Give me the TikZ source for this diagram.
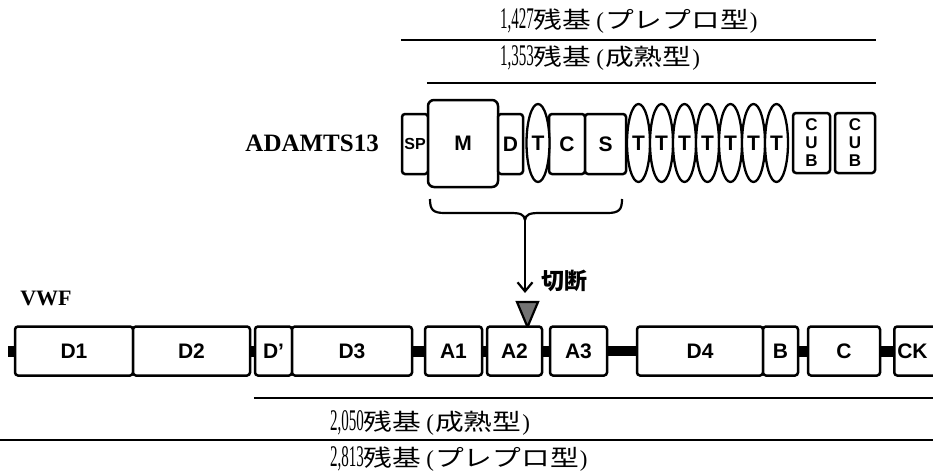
\documentclass[tikz,border=0pt]{standalone}
\usepackage{graphicx}
\usepackage{fontspec}
\setmainfont{Liberation Serif}
\setsansfont{Liberation Sans}
\newfontfamily\jp[FakeStretch=1.25]{Noto Sans CJK JP}
\newfontfamily\jpcut{Noto Sans CJK JP}
\usetikzlibrary{shapes.geometric,arrows.meta}
\newcommand\restext[2]{\scalebox{0.5}[1]{\fontsize{30}{32}\selectfont #1}{\jp 残基}\hspace{5pt}(\kern1pt{\jp #2}\kern1pt)}
\begin{document}
\begin{tikzpicture}[x=1pt,y=-1pt,
  dom/.style={draw, line width=2.5pt, rounded corners=3pt, fill=white, inner sep=0pt,
    font=\sffamily\bfseries\fontsize{21}{24}\selectfont},
  adom/.style={dom, minimum height=60pt},
  tdom/.style={ellipse, draw, line width=2.3pt, fill=white, inner sep=0pt,
    minimum width=23pt, minimum height=78pt, font=\sffamily\bfseries\fontsize{21}{24}\selectfont},
  cubdom/.style={adom, align=center, font=\sffamily\bfseries\fontsize{17}{18}\selectfont},
  vdom/.style={dom, minimum height=49pt},
  link/.style={line width=11pt},
  span/.style={line width=2.8pt},
  restxt/.style={anchor=west, inner sep=0pt, font=\fontsize{23}{26}\selectfont},
]
\useasboundingbox (0,0) rectangle (933,474);

% top residue labels
\node[restxt] (t1) at (500,21) {\restext{1,427}{プレプロ型}};
\node[restxt] (t2) at (500,58) {\restext{1,353}{成熟型}};

% ADAMTS13 domains
\node[anchor=east, inner sep=0pt, font=\bfseries\fontsize{25}{28}\selectfont] (adamts) at (379,143) {ADAMTS13};
\node[adom, minimum width=26pt, font=\sffamily\bfseries\fontsize{16}{20}\selectfont] (SP) at (415,144) {SP};
\node[dom, minimum width=70pt, minimum height=87pt, rounded corners=6pt] (M) at (463,143.5) {M};
\node[adom, minimum width=25pt] (D) at (510.5,144) {D};
\node[adom, minimum width=36pt] (C) at (567,144) {C};
\node[adom, minimum width=41pt] (S) at (605.5,144) {S};
\node[tdom] (T0) at (538,143) {T};
\foreach \i in {1,...,7} \node[tdom] (T\i) at (615.5+23*\i,143) {T};
\node[cubdom, minimum width=37pt] (CUB1) at (811.5,143) {C\\U\\B};
\node[cubdom, minimum width=40pt] (CUB2) at (855,143) {C\\U\\B};

\coordinate (top1) at (0,40);
\coordinate (top2) at (0,83);
\draw[span] (SP.west |- top1) -- (CUB2.east |- top1);
\draw[span] (M.west |- top2) -- (CUB2.east |- top2);

% brace and cleavage arrow
\draw[line width=2.2pt] (430,199) .. controls (430,210) and (433,213) .. (445,213) -- (510,213)
  .. controls (520,213) and (524,214) .. (525,220)
  .. controls (526,214) and (530,213) .. (540,213) -- (607,213)
  .. controls (619,213) and (622,210) .. (622,199);
\coordinate (bt) at (525,219);
\coordinate (cutpt) at (525,293);
\draw[line width=2.2pt, -{Straight Barb[length=9pt,width=15pt]}] (bt) -- (cutpt);
\node[anchor=west, inner sep=0pt, font=\jpcut\bfseries\fontsize{23}{26}\selectfont] (cutlabel) at (541,281) {切断};
\draw[line width=2.2pt, fill=black!55] (517,302) -- (538,302) -- (527.5,327) -- cycle;

% VWF
\node[inner sep=0pt, font=\bfseries\fontsize{22}{24}\selectfont] (vwf) at (46,298) {VWF};
\node[vdom, minimum width=118pt] (D1) at (74,351) {D1};
\node[vdom, minimum width=117pt] (D2) at (191.5,351) {D2};
\node[vdom, minimum width=37pt] (Dp) at (273.5,351) {D'};
\node[vdom, minimum width=120pt] (D3) at (352,351) {D3};
\node[vdom, minimum width=57pt] (A1) at (453.5,351) {A1};
\node[vdom, minimum width=55pt] (A2) at (514.5,351) {A2};
\node[vdom, minimum width=57pt] (A3) at (578.5,351) {A3};
\node[vdom, minimum width=126pt] (D4) at (700,351) {D4};
\node[vdom, minimum width=35pt] (B) at (780.5,351) {B};
\node[vdom, minimum width=72pt] (C2) at (844,351) {C};
\node[vdom, anchor=west, text width=50pt, align=left, inner sep=3pt] (CK) at (893,351) {CK};

\coordinate (stub) at (8,351);
\draw[link] (stub) -- (D1.west);
\draw[link] (D2.east) -- (Dp.west);
\draw[link] (D3.east) -- (A1.west);
\draw[link] (A1.east) -- (A2.west);
\draw[link] (A2.east) -- (A3.west);
\draw[link, line width=10pt] (A3.east) -- (D4.west);
\draw[link] (B.east) -- (C2.west);
\draw[link] (C2.east) -- (CK.west);

% bottom residue lines and labels
\coordinate (b3) at (933,398);
\coordinate (b4a) at (0,440);
\coordinate (b4b) at (933,440);
\draw[span] (Dp.west |- b3) -- (b3);
\draw[span] (b4a) -- (b4b);
\node[restxt] (t3) at (330,423) {\restext{2,050}{成熟型}};
\node[restxt] (t4) at (330,459) {\restext{2,813}{プレプロ型}};
\end{tikzpicture}
\end{document}
